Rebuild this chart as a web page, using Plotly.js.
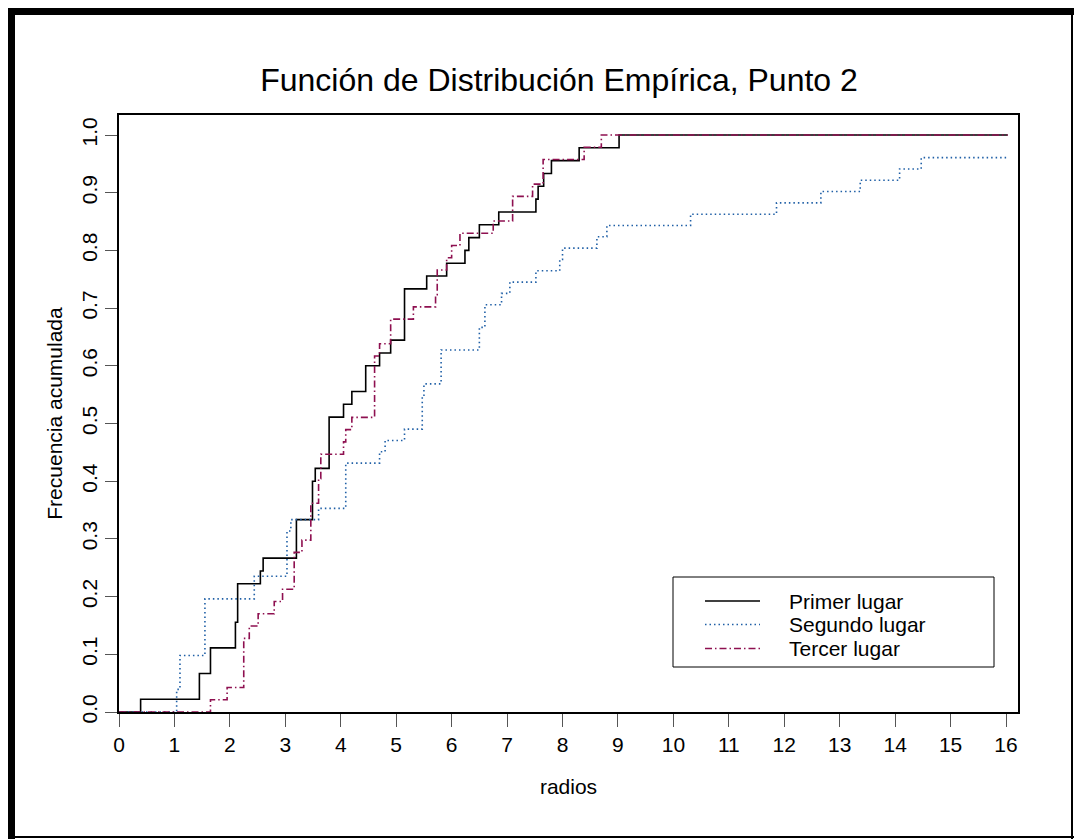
<!DOCTYPE html>
<html>
<head>
<meta charset="utf-8">
<script src="https://cdn.plot.ly/plotly-3.0.1.min.js"></script>
<style>
  html, body { margin: 0; padding: 0; background: #ffffff; }
  #chart { width: 1074px; height: 839px; }
</style>
</head>
<body>
<div id="chart"></div>
<script>
// Empirical distribution functions: jump locations and cumulative counts per group
const seriesNames = ["Primer lugar", "Segundo lugar", "Tercer lugar"];
const sampleSizes = [45, 51, 47];

const primerX = [0.39, 1.45, 1.65, 2.10, 2.14, 2.55, 2.60, 3.20, 3.49, 3.54, 3.79, 4.05, 4.20, 4.45, 4.70, 4.90, 5.15, 5.55, 5.91, 6.24, 6.31, 6.50, 6.85, 7.52, 7.56, 7.66, 7.80, 8.30, 9.02];
const primerN = [1, 3, 5, 7, 10, 11, 12, 15, 18, 19, 23, 24, 25, 27, 28, 29, 33, 34, 35, 36, 37, 38, 39, 40, 41, 42, 43, 44, 45];

const segundoX = [1.04, 1.10, 1.55, 2.44, 3.03, 3.10, 3.60, 4.09, 4.70, 4.80, 5.15, 5.47, 5.50, 5.81, 6.50, 6.60, 6.90, 7.05, 7.52, 7.95, 8.00, 8.62, 8.80, 10.31, 11.86, 12.66, 13.37, 14.08, 14.47];
const segundoN = [2, 5, 10, 12, 16, 17, 18, 22, 23, 24, 25, 28, 29, 32, 34, 36, 37, 38, 39, 40, 41, 42, 43, 44, 45, 46, 47, 48, 49];

const tercerX = [1.65, 1.95, 2.25, 2.35, 2.51, 2.80, 2.95, 3.16, 3.30, 3.46, 3.60, 3.64, 4.05, 4.09, 4.20, 4.61, 4.70, 4.90, 5.31, 5.71, 5.74, 5.91, 6.00, 6.15, 6.75, 7.10, 7.46, 7.65, 8.39, 8.70];
const tercerN = [1, 2, 6, 7, 8, 9, 10, 13, 14, 17, 19, 21, 22, 23, 24, 29, 30, 32, 33, 34, 36, 37, 38, 39, 40, 42, 43, 45, 46, 47];

const xStart = 0;
const xEnd = 16.03;

const xTicks = [0, 1, 2, 3, 4, 5, 6, 7, 8, 9, 10, 11, 12, 13, 14, 15, 16];
const yTicks = [0, 0.1, 0.2, 0.3, 0.4, 0.5, 0.6, 0.7, 0.8, 0.9, 1.0];
const yTickText = ["0.0", "0.1", "0.2", "0.3", "0.4", "0.5", "0.6", "0.7", "0.8", "0.9", "1.0"];

const colors = ["#000000", "#1f5fa6", "#8e1050"];
const dashes = ["solid", "1.5px,3px", "7px,3px,1.5px,3px"];
const FONT = "Liberation Sans, Arial, sans-serif";
const TEXT_SIZE = 21;

// step function points: flat at 0, then each jump, held to the right end
function stepPoints(xs, counts, n) {
  const x = [xStart], y = [0];
  xs.forEach((v, i) => { x.push(v); y.push(counts[i] / n); });
  x.push(xEnd); y.push(counts[counts.length - 1] / n);
  return { x, y };
}

const raw = [[primerX, primerN], [segundoX, segundoN], [tercerX, tercerN]];
const traces = raw.map((d, i) => {
  const p = stepPoints(d[0], d[1], sampleSizes[i]);
  return {
    type: "scatter", mode: "lines", name: seriesNames[i],
    x: p.x, y: p.y,
    line: { shape: "hv", color: colors[i], width: 1.6, dash: dashes[i] },
    showlegend: false, hoverinfo: "skip"
  };
});

// plot area geometry in pixels
const W = 1074, H = 839;
const L = 119, R = 1018, T = 115, B = 712;
const px = v => (v - L) / (R - L);
const py = v => (B - v) / (B - T);

const shapes = [];
const annotations = [];

// legend box with line samples
shapes.push({ type: "rect", xref: "paper", yref: "paper",
  x0: px(673), x1: px(994), y0: py(667), y1: py(577),
  line: { color: "#000000", width: 1 }, fillcolor: "rgba(0,0,0,0)" });
const legendRows = [601, 624.5, 648.5];
seriesNames.forEach((name, i) => {
  shapes.push({ type: "line", xref: "paper", yref: "paper",
    x0: px(705), x1: px(760), y0: py(legendRows[i]), y1: py(legendRows[i]),
    line: { color: colors[i], width: 1.6, dash: dashes[i] } });
  annotations.push({ xref: "paper", yref: "paper", x: px(787), y: py(legendRows[i]),
    xanchor: "left", yanchor: "middle", showarrow: false, text: name,
    font: { family: FONT, size: TEXT_SIZE, color: "#000000" } });
});

// page frame
shapes.push({ type: "rect", xref: "paper", yref: "paper",
  x0: px(8), x1: px(15), y0: py(839), y1: py(8), line: { width: 0 }, fillcolor: "#000000" });
shapes.push({ type: "rect", xref: "paper", yref: "paper",
  x0: px(8), x1: px(1074), y0: py(15), y1: py(8), line: { width: 0 }, fillcolor: "#000000" });
shapes.push({ type: "rect", xref: "paper", yref: "paper",
  x0: px(1071), x1: px(1073), y0: py(839), y1: py(8), line: { width: 0 }, fillcolor: "#000000" });
shapes.push({ type: "rect", xref: "paper", yref: "paper",
  x0: px(8), x1: px(1074), y0: py(838), y1: py(836), line: { width: 0 }, fillcolor: "#000000" });

const layout = {
  width: W, height: H,
  margin: { l: L, r: W - R, t: T, b: H - B, pad: 0 },
  paper_bgcolor: "#ffffff", plot_bgcolor: "#ffffff",
  font: { family: FONT, size: TEXT_SIZE, color: "#000000" },
  title: { text: "Función de Distribución Empírica, Punto 2",
    font: { family: FONT, size: 32, color: "#000000" },
    x: 559 / W, xref: "container", xanchor: "center",
    y: 1 - 80 / H, yref: "container", yanchor: "middle" },
  xaxis: {
    range: [0, (R - L) / 55.44], tickvals: xTicks, ticktext: xTicks.map(String),
    ticks: "outside", ticklen: 13, tickwidth: 1, tickcolor: "#555555",
    showline: true, linecolor: "#000000", linewidth: 2, mirror: true,
    showgrid: false, zeroline: false, automargin: false,
    tickfont: { family: FONT, size: TEXT_SIZE, color: "#000000" },
    title: { text: "radios", font: { family: FONT, size: TEXT_SIZE, color: "#000000" }, standoff: 24 }
  },
  yaxis: {
    range: [0, (B - T) / 577], tickvals: yTicks, ticktext: yTickText,
    tickangle: -90,
    ticks: "outside", ticklen: 12, tickwidth: 1, tickcolor: "#555555",
    showline: true, linecolor: "#000000", linewidth: 2, mirror: true,
    showgrid: false, zeroline: false, automargin: false,
    tickfont: { family: FONT, size: TEXT_SIZE, color: "#000000" },
    title: { text: "Frecuencia acumulada", font: { family: FONT, size: TEXT_SIZE, color: "#000000" }, standoff: 9 }
  },
  shapes: shapes,
  annotations: annotations,
  showlegend: false
};

Plotly.newPlot("chart", traces, layout, { displayModeBar: false, staticPlot: true });
</script>
</body>
</html>
